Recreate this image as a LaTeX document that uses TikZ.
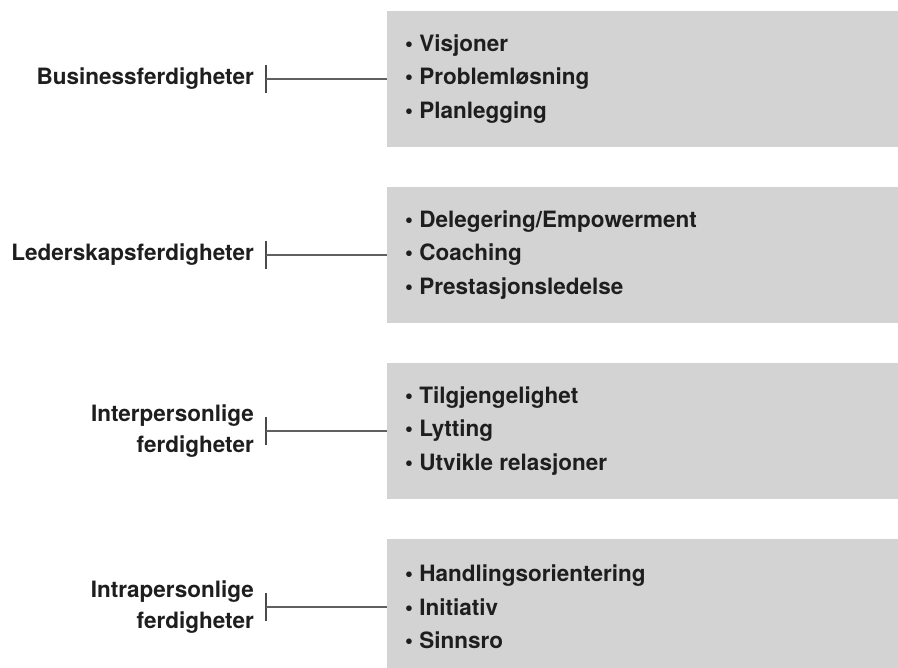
\documentclass[tikz,border=0pt]{standalone}
\usepackage{fontspec}
\setmainfont{TeX Gyre Heros}
\definecolor{boxgray}{HTML}{D3D3D3}
\definecolor{txt}{HTML}{1E1E1E}
\definecolor{tickc}{HTML}{4A4A4A}
\definecolor{linec}{HTML}{606060}
\begin{document}
\begin{tikzpicture}[x=1pt,y=-1pt,
  skillbox/.style={fill=boxgray, draw=none, rectangle, minimum width=511pt, minimum height=136pt, anchor=north west, inner sep=0pt},
  listtext/.style={anchor=west, align=left, inner sep=0pt, text=txt, font=\fontsize{22.5}{33.5}\selectfont\bfseries},
  labeltext/.style={anchor=east, align=right, inner sep=0pt, text=txt, font=\fontsize{22.5}{31}\selectfont\bfseries},
  tickline/.style={draw=tickc, line width=2.4pt},
  conn/.style={draw=linec, line width=2.2pt}]
\clip (0,0) rectangle (898,668);
\fill[white] (0,0) rectangle (898,668);

\node[skillbox] (b1) at (387,11) {};
\node[skillbox] (b2) at (387,187) {};
\node[skillbox] (b3) at (387,363) {};
\node[skillbox] (b4) at (387,539) {};

\node[listtext] (l1) at (405,79) {• Visjoner\\• Problemløsning\\• Planlegging};
\node[listtext] (l2) at (405,255) {• Delegering/Empowerment\\• Coaching\\• Prestasjonsledelse};
\node[listtext] (l3) at (405,431) {• Tilgjengelighet\\• Lytting\\• Utvikle relasjoner};
\node[listtext] (l4) at (405,607) {• Handlingsorientering\\• Initiativ\\• Sinnsro};

\node[labeltext] (s1) at (254,79) {Businessferdigheter};
\node[labeltext] (s2) at (254,255) {Lederskapsferdigheter};
\node[labeltext] (s3) at (254,431) {Interpersonlige\\ferdigheter};
\node[labeltext] (s4) at (254,607) {Intrapersonlige\\ferdigheter};

\coordinate (t1) at (266,79);
\coordinate (t2) at (266,255);
\coordinate (t3) at (266,431);
\coordinate (t4) at (266,607);

\foreach \i in {1,2,3,4}{
  \draw[tickline] ([yshift=14pt]t\i) -- ([yshift=-14pt]t\i);
  \draw[conn] (t\i) -- (t\i -| b\i.west);
}
\end{tikzpicture}
\end{document}
